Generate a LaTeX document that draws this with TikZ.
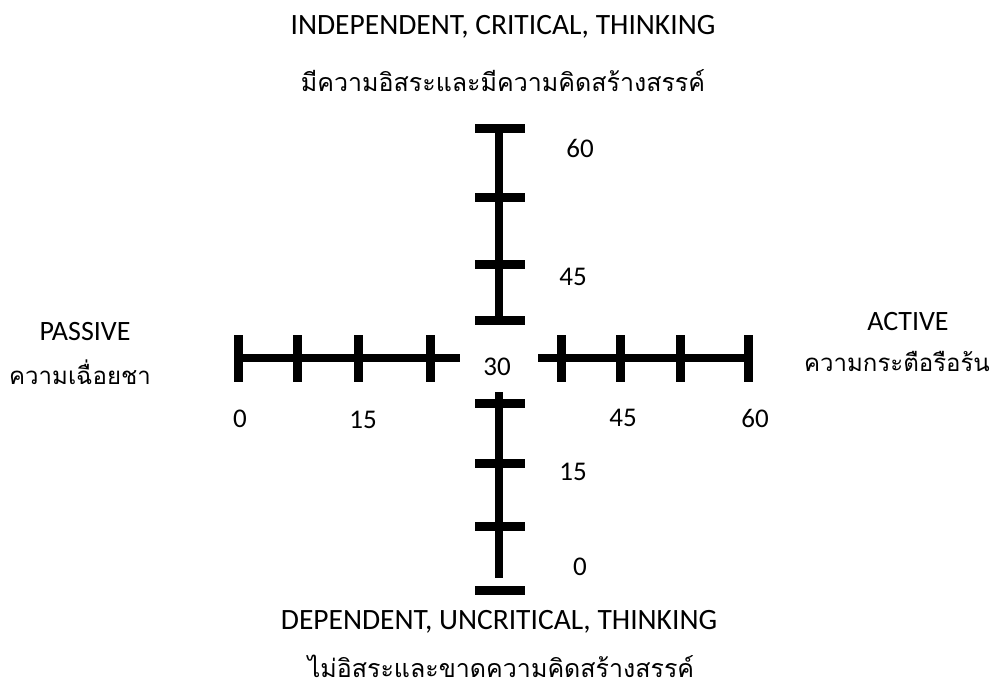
\documentclass[tikz,border=0pt]{standalone}
\usepackage{fontspec}
\setmainfont{Carlito}
\newfontfamily\thai[Script=Thai]{Loma}
\begin{document}
\begin{tikzpicture}[x=1pt,y=-1pt,
  bar/.style={line width=8pt,black},
  tick/.style={line width=9pt,black},
  title/.style={font=\fontsize{29.5}{31}\selectfont,inner sep=0pt},
  thtitle/.style={font=\thai\fontsize{25}{27}\selectfont,inner sep=0pt},
  side/.style={font=\fontsize{28}{30}\selectfont,inner sep=0pt},
  thside/.style={font=\thai\fontsize{24}{26}\selectfont,inner sep=0pt},
  num/.style={font=\fontsize{27}{29}\selectfont,inner sep=0pt}]
\useasboundingbox (0,0) rectangle (1000,688);
% top vertical scale
\coordinate (t0) at (499,128);
\coordinate (t1) at (499,320);
\draw[bar] (t0) -- (t1);
\foreach \y in {128,197,264,320}{\draw[tick] (475,\y) -- (525,\y);}
% bottom vertical scale
\coordinate (b0) at (499,392);
\coordinate (b1) at (499,578);
\draw[bar] (b0) -- (b1);
\foreach \y in {403,463,526,590}{\draw[tick] (475,\y) -- (525,\y);}
% left horizontal scale
\coordinate (l0) at (238,358);
\coordinate (l1) at (460,358);
\draw[bar] (l0) -- (l1);
\foreach \x in {238,297,358,430}{\draw[tick] (\x,335) -- (\x,382);}
% right horizontal scale
\coordinate (r0) at (538,358);
\coordinate (r1) at (748,358);
\draw[bar] (r0) -- (r1);
\foreach \x in {561,620,680,748}{\draw[tick] (\x,335) -- (\x,382);}
% numbers
\node[num] (n60t) at (580,148) {60};
\node[num] (n45t) at (573,277) {45};
\node[num] (n30) at (497,367) {30};
\node[num] (n0l) at (240,419) {0};
\node[num] (n15l) at (363,420) {15};
\node[num] (n45r) at (623,418) {45};
\node[num] (n60r) at (755,418) {60};
\node[num] (n15b) at (573,472) {15};
\node[num] (n0b) at (580,567) {0};
% titles
\node[title] (top1) at (503,27) {INDEPENDENT, CRITICAL, THINKING};
\node[thtitle] (top2) at (503,81) {มีความอิสระและมีความคิดสร้างสรรค์};
\node[title] (bot1) at (499,622) {DEPENDENT, UNCRITICAL, THINKING};
\node[thtitle] (bot2) at (501,666) {ไม่อิสระและขาดความคิดสร้างสรรค์};
\node[side] (pas1) at (85,332) {PASSIVE};
\node[thside] (pas2) at (80,372) {ความเฉื่อยชา};
\node[side] (act1) at (908,322) {ACTIVE};
\node[thside] (act2) at (897,361) {ความกระตือรือร้น};
\end{tikzpicture}
\end{document}
